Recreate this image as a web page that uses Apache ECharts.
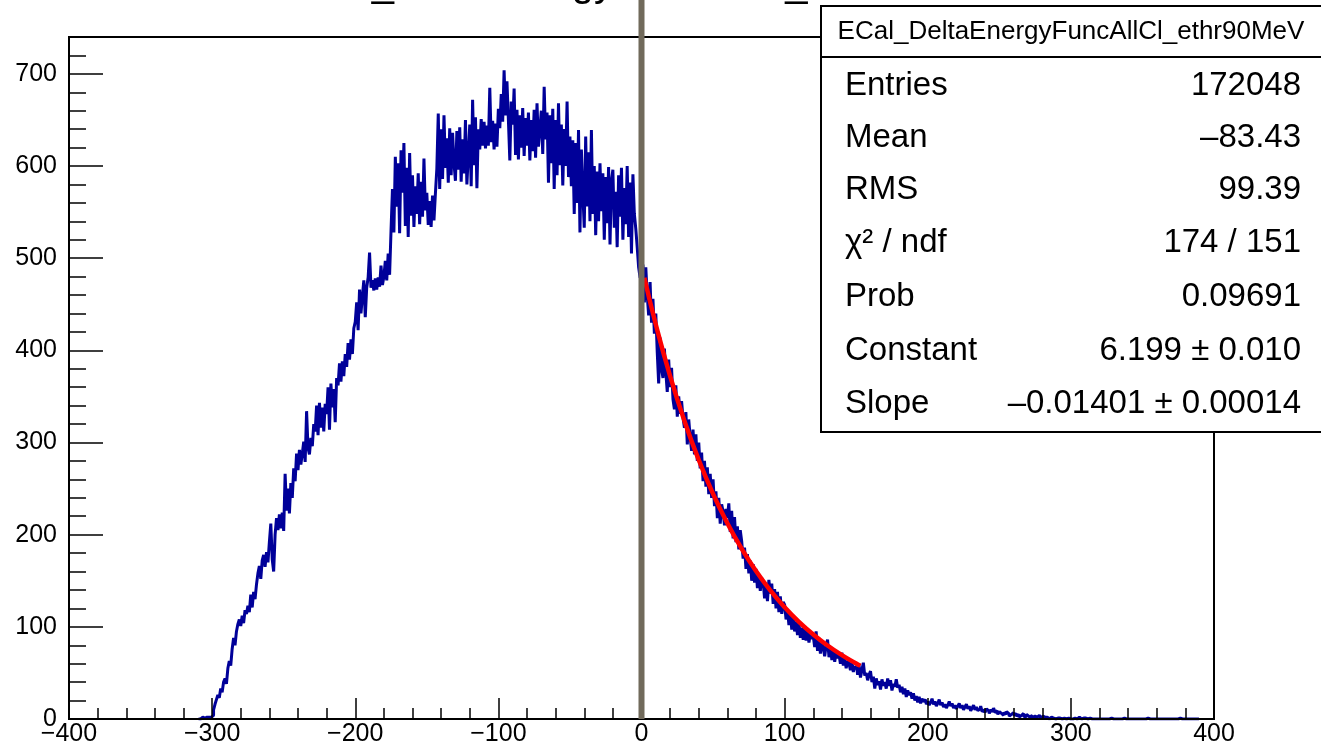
<!DOCTYPE html>
<html>
<head>
<meta charset="utf-8">
<script src="https://cdn.jsdelivr.net/npm/echarts@6.0.0/dist/echarts.min.js"></script>
<style>html,body{margin:0;padding:0;background:#fff}#c{width:1321px;height:749px}</style>
</head>
<body>
<div id="c"></div>
<script>
// ---------------- data ----------------
const histTitle = 'ECal_DeltaEnergyFuncAllCl_ethr90MeV';
const binStart = -310;   // low edge of first bin, bin width = 1
// bins -310 .. -201
const countsA = [0,0,0,2,1,3,2,2,3,2,
  4,10,16,21,26,23,33,29,40,44,
  38,55,63,58,76,88,80,95,103,108,
  101,112,104,118,114,123,116,135,121,138,
  130,146,158,166,152,172,178,165,181,170,
  192,212,173,160,200,218,205,222,207,224,
  204,266,226,250,223,256,240,272,258,288,
  270,292,276,288,301,279,334,294,287,305,
  296,320,312,340,308,343,316,338,312,342,
  331,360,314,364,338,358,322,370,362,386,
  366,388,372,396,382,408,390,412,396,424];
// bins -200 .. -101
const countsB = [431,452,422,466,440,459,476,436,468,479,
  506,468,476,465,478,466,479,469,492,471,
  480,497,476,505,482,530,575,528,610,556,
  603,527,617,571,625,535,598,523,614,546,
  590,534,578,548,592,537,583,545,608,552,
  571,536,562,534,568,541,570,597,657,575,
  640,586,655,598,630,582,641,590,636,603,
  584,638,596,642,583,629,592,650,580,612,
  645,578,672,601,653,576,640,618,651,622,
  648,619,644,622,685,626,649,618,646,621];
// bins -100 .. -1
const countsC = [662,641,678,648,704,655,692,650,606,670,
  645,684,612,661,607,655,620,663,611,652,
  622,658,606,650,616,661,609,668,621,640,
  660,613,686,629,658,582,655,603,662,575,
  650,590,668,601,645,579,640,600,670,588,
  632,578,628,548,625,560,639,528,618,571,
  533,632,556,615,540,639,548,600,525,594,
  540,603,551,592,520,588,538,599,515,584,
  596,533,572,512,590,545,598,520,576,537,
  600,523,582,505,591,548,532,512,490,479];
// bins 0 .. 99
const countsD = [478,493,452,490,460,438,474,430,456,418,
  440,398,364,414,380,370,402,376,355,390,
  360,381,347,336,362,328,350,331,345,327,
  316,333,298,325,306,291,314,287,309,280,
  300,272,289,258,280,252,273,244,266,240,
  260,231,247,218,240,212,233,225,210,228,
  218,234,203,226,196,219,192,209,184,205,
  193,174,186,163,179,158,172,150,168,148,
  163,142,157,139,153,149,131,146,128,151,
  136,147,125,141,120,138,116,133,114,127];
// bins 100 .. 199
const countsE = [124,108,119,102,115,97,110,95,106,91,
  104,88,99,86,101,85,96,83,93,87,
  90,78,95,74,88,71,84,77,68,80,
  86,67,79,64,76,62,73,66,70,60,
  72,58,66,55,63,60,53,62,51,57,
  55,48,58,45,53,61,47,50,42,48,
  52,40,46,33,44,37,41,32,43,36,
  40,33,44,36,42,31,38,35,43,34,
  37,29,35,27,33,24,31,26,29,22,
  28,20,25,18,24,17,22,19,21,16];
// bins 200 .. 389
const countsF = [19,15,18,22,16,19,14,17,21,15,
  18,13,16,12,15,19,14,17,12,15,
  11,14,17,12,15,10,13,16,11,14,
  9,12,15,10,13,9,11,14,8,10,
  7,11,9,6,10,8,12,7,9,5,
  8,6,4,7,5,8,6,3,5,7,
  4,6,3,5,2,4,6,3,2,5,
  3,1,4,2,3,1,2,4,2,1,
  3,2,1,2,0,1,2,1,1,0,
  1,2,1,0,1,1,0,2,1,0,
  1,0,1,1,0,2,1,0,1,0,
  1,0,0,1,0,1,0,0,1,0,
  0,1,0,0,1,0,0,0,1,0,
  0,0,0,0,0,0,0,1,0,0,
  0,0,0,0,0,0,0,0,0,0,
  0,0,0,1,0,0,0,0,0,0,
  0,0,0,0,0,0,0,0,0,0,
  0,0,0,0,0,0,1,0,0,0,
  0,0,0,0,0,0,0,0,0,0];
// fitted exponential (red)
const fitX = [2,10,20,30,40,50,60,70,80,90,100,110,120,130,140,150,153];
const fitY = [478.7,428.0,372.0,323.4,281.1,244.3,212.4,184.7,160.5,139.5,121.3,105.4,91.7,79.7,69.3,60.2,57.7];
// vertical cut line
const cutX = [0];
// stats box
const statLabels = ['Entries','Mean','RMS','\u03c7\u00b2 / ndf','Prob','Constant','Slope'];
const statValues = ['172048','\u201383.43','99.39','174 / 151','0.09691','6.199 \u00b1 0.010','\u20130.01401 \u00b1 0.00014'];

// ---------------- chart ----------------
const FONT = '"Liberation Sans", Arial, Helvetica, sans-serif';
const counts = [].concat(countsA, countsB, countsC, countsD, countsE, countsF);
const histData = counts.map((c, i) => [binStart + i + 0.5, c]);
const fitData = fitX.map((x, i) => [x, fitY[i]]);

const rowY = [86, 138, 190, 243, 297, 351, 404];
const graphics = [
  {type:'rect', z:10, shape:{x:821, y:6, width:502, height:426}, style:{fill:'#fff', stroke:'#000', lineWidth:2}},
  {type:'line', z:10, shape:{x1:821, y1:57, x2:1323, y2:57}, style:{stroke:'#000', lineWidth:2}},
  {type:'text', z:11, x:1071, y:32, style:{text:histTitle, fontFamily:FONT, fontSize:26, fill:'#000', align:'center', verticalAlign:'middle'}}
];
statLabels.forEach((t, i) => {
  graphics.push({type:'text', z:11, x:845, y:rowY[i], style:{text:t, fontFamily:FONT, fontSize:33, fill:'#000', align:'left', verticalAlign:'middle'}});
  graphics.push({type:'text', z:11, x:1301, y:rowY[i], style:{text:statValues[i], fontFamily:FONT, fontSize:33, fill:'#000', align:'right', verticalAlign:'middle'}});
});

const chart = echarts.init(document.getElementById('c'), null, {renderer:'canvas', width:1321, height:749});
const axisFmt = v => (v < 0 ? '\u2212' : '') + Math.abs(v);
chart.setOption({
  animation: false,
  backgroundColor: '#fff',
  title: {text: histTitle, left: 280, top: -40, z: 1,
    textStyle: {fontFamily: FONT, fontSize: 40, fontWeight: 'normal', color: '#000'}},
  grid: {left: 69, right: 107, top: 37, bottom: 30, show: true, borderColor: '#000', borderWidth: 2,
    backgroundColor: 'transparent', z: 5, containLabel: false, outerBoundsMode: 'none'},
  xAxis: {type: 'value', min: -400, max: 400, interval: 100, z: 5,
    axisLine: {show: true, onZero: false, lineStyle: {color: '#000', width: 2}},
    axisTick: {show: true, inside: true, length: 21, lineStyle: {color: '#000', width: 1.5}},
    minorTick: {show: true, splitNumber: 5, length: 11, lineStyle: {color: '#000', width: 1.5}},
    splitLine: {show: false}, minorSplitLine: {show: false},
    axisLabel: {margin: 3, fontSize: 25, fontFamily: FONT, color: '#000', formatter: axisFmt,
      showMinLabel: true, showMaxLabel: true}},
  yAxis: [
    {type: 'value', position: 'left', min: 0, max: 740, interval: 100, z: 5,
      axisLine: {show: true, onZero: false, lineStyle: {color: '#000', width: 2}},
      axisTick: {show: true, inside: true, length: 34, lineStyle: {color: '#000', width: 1.5}},
      splitLine: {show: false},
      axisLabel: {margin: 12, fontSize: 25, fontFamily: FONT, color: '#000', showMaxLabel: false, showMinLabel: true}},
    {type: 'value', position: 'left', min: 0, max: 740, interval: 20, z: 5,
      axisLine: {show: false, onZero: false},
      axisTick: {show: true, inside: true, length: 17, lineStyle: {color: '#000', width: 1.5}},
      splitLine: {show: false},
      axisLabel: {show: false}}
  ],
  series: [
    {type: 'line', name: 'hist', data: histData, step: 'middle', symbol: 'none', showSymbol: false,
      lineStyle: {color: '#000099', width: 3}, itemStyle: {color: '#000099'}, z: 2, silent: true},
    {type: 'line', name: 'fit', data: fitData, smooth: true, symbol: 'none', showSymbol: false,
      lineStyle: {color: '#ff0000', width: 4.5}, itemStyle: {color: '#ff0000'}, z: 3, silent: true},
    {type: 'custom', name: 'cut', data: cutX.map(x => [x]), clip: false, z: 6, silent: true,
      renderItem: (params, api) => {
        const p = api.coord([api.value(0), 0]);
        return {type: 'line', shape: {x1: p[0], y1: p[1], x2: p[0], y2: 0},
          style: {stroke: '#716a5b', lineWidth: 6}};
      }}
  ],
  graphic: graphics
});
</script>
</body>
</html>
